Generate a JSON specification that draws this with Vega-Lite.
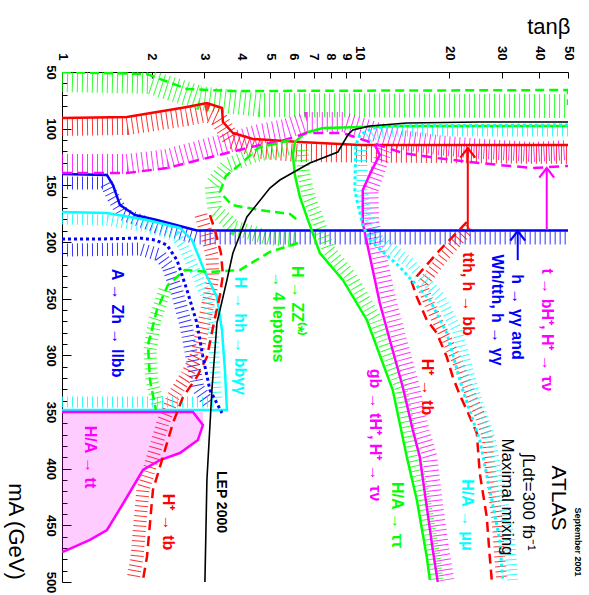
{
"$schema": "https://vega.github.io/schema/vega-lite/v6.json",
"width": 506, "height": 510,
"autosize": {"type": "none"},
"padding": {"left": 62, "top": 72, "right": 21, "bottom": 13},
"background": "white",
"config": {"view": {"stroke": null}, "font": "Liberation Sans"},
"datasets": {
"curves": [
{"s":"lep","o":0,"t":50,"m":94.1},{"s":"lep","o":1,"t":25.27,"m":94.1},{"s":"lep","o":2,"t":14.38,"m":95.0},{"s":"lep","o":3,"t":10.8,"m":97.6},{"s":"lep","o":4,"t":9.474,"m":101.2},{"s":"lep","o":5,"t":9.114,"m":105.6},{"s":"lep","o":6,"t":8.437,"m":120.6},{"s":"lep","o":7,"t":6.796,"m":130.3},{"s":"lep","o":8,"t":5.389,"m":145.3},{"s":"lep","o":9,"t":4.989,"m":152.4},{"s":"lep","o":10,"t":4.176,"m":177.9},{"s":"lep","o":11,"t":3.749,"m":209.7},{"s":"lep","o":12,"t":3.579,"m":233.5},{"s":"lep","o":13,"t":3.313,"m":271.5},{"s":"lep","o":14,"t":3.187,"m":330.6},{"s":"lep","o":15,"t":3.066,"m":410.0},{"s":"lep","o":16,"t":3.019,"m":500},
{"s":"red_top","o":0,"t":1,"m":90.6},{"s":"red_top","o":1,"t":1.653,"m":89.7},{"s":"red_top","o":2,"t":2.628,"m":80.9},{"s":"red_top","o":3,"t":3.066,"m":77.4},{"s":"red_top","o":4,"t":3.444,"m":81.8},{"s":"red_top","o":5,"t":3.47,"m":94.1},{"s":"red_top","o":6,"t":3.749,"m":103.8},{"s":"red_top","o":7,"t":4.375,"m":109.1},{"s":"red_top","o":8,"t":6.292,"m":111.8},{"s":"red_top","o":9,"t":10,"m":114.4},{"s":"red_top","o":10,"t":50,"m":114.4},
{"s":"mag_dash","o":0,"t":1,"m":139.1},{"s":"mag_dash","o":1,"t":1.653,"m":139.1},{"s":"mag_dash","o":2,"t":2.251,"m":134.7},{"s":"mag_dash","o":3,"t":3.579,"m":121.5},{"s":"mag_dash","o":4,"t":4.617,"m":114.4},{"s":"mag_dash","o":5,"t":5.603,"m":110.0},{"s":"mag_dash","o":6,"t":6.639,"m":103.8},{"s":"mag_dash","o":7,"t":8.77,"m":103.8},{"s":"mag_dash","o":8,"t":10.8,"m":111.8},{"s":"mag_dash","o":9,"t":13.94,"m":121.5},{"s":"mag_dash","o":10,"t":18.13,"m":125.9},{"s":"mag_dash","o":11,"t":23.39,"m":129.4},{"s":"mag_dash","o":12,"t":29.5,"m":132.1},{"s":"mag_dash","o":13,"t":38.07,"m":134.7},{"s":"mag_dash","o":14,"t":50,"m":132.9},
{"s":"blue_solid","o":0,"t":1,"m":140.0},{"s":"blue_solid","o":1,"t":1.416,"m":140.9},{"s":"blue_solid","o":2,"t":1.483,"m":149.7},{"s":"blue_solid","o":3,"t":1.565,"m":167.4},{"s":"blue_solid","o":4,"t":1.758,"m":176.2},{"s":"blue_solid","o":5,"t":2.083,"m":180.6},{"s":"blue_solid","o":6,"t":2.838,"m":189.8},{"s":"blue_solid","o":7,"t":50,"m":189.8},
{"s":"cyan_solid","o":0,"t":1,"m":173.5},{"s":"cyan_solid","o":1,"t":1.416,"m":174.4},{"s":"cyan_solid","o":2,"t":1.929,"m":180.6},{"s":"cyan_solid","o":3,"t":2.489,"m":187.6},{"s":"cyan_solid","o":4,"t":2.731,"m":198.2},{"s":"cyan_solid","o":5,"t":3.019,"m":226.5},{"s":"cyan_solid","o":6,"t":3.313,"m":248.5},{"s":"cyan_solid","o":7,"t":3.444,"m":277.6},{"s":"cyan_solid","o":8,"t":3.524,"m":312.9},{"s":"cyan_solid","o":9,"t":3.579,"m":348.2},{"s":"cyan_solid","o":10,"t":1,"m":348.2},
{"s":"blue_dot","o":0,"t":1,"m":197.4},{"s":"blue_dot","o":1,"t":1.341,"m":197.4},{"s":"blue_dot","o":2,"t":1.827,"m":196.5},{"s":"blue_dot","o":3,"t":2.051,"m":198.2},{"s":"blue_dot","o":4,"t":2.251,"m":202.6},{"s":"blue_dot","o":5,"t":2.432,"m":215.9},{"s":"blue_dot","o":6,"t":2.628,"m":242.4},{"s":"blue_dot","o":7,"t":2.838,"m":271.5},{"s":"blue_dot","o":8,"t":2.973,"m":301.5},{"s":"blue_dot","o":9,"t":3.139,"m":330.6},{"s":"blue_dot","o":10,"t":3.444,"m":350.9},
{"s":"red_dash_low","o":0,"t":3.139,"m":176.2},{"s":"red_dash_low","o":1,"t":3.262,"m":189.4},{"s":"red_dash_low","o":2,"t":3.417,"m":209.7},{"s":"red_dash_low","o":3,"t":3.47,"m":229.1},{"s":"red_dash_low","o":4,"t":3.391,"m":246.8},{"s":"red_dash_low","o":5,"t":3.236,"m":271.5},{"s":"red_dash_low","o":6,"t":3.066,"m":301.5},{"s":"red_dash_low","o":7,"t":2.838,"m":319.1},{"s":"red_dash_low","o":8,"t":2.547,"m":336.8},{"s":"red_dash_low","o":9,"t":2.358,"m":359.7},{"s":"red_dash_low","o":10,"t":2.132,"m":398.5},{"s":"red_dash_low","o":11,"t":2.02,"m":418.8},{"s":"red_dash_low","o":12,"t":1.929,"m":477.9},{"s":"red_dash_low","o":13,"t":1.87,"m":498.2},
{"s":"red_dash_high","o":0,"t":22.86,"m":182.4},{"s":"red_dash_high","o":1,"t":18.56,"m":207.1},{"s":"red_dash_high","o":2,"t":14.94,"m":235.3},{"s":"red_dash_high","o":3,"t":15.54,"m":248.5},{"s":"red_dash_high","o":4,"t":16.78,"m":268.8},{"s":"red_dash_high","o":5,"t":18.13,"m":280.3},{"s":"red_dash_high","o":6,"t":19.59,"m":301.5},{"s":"red_dash_high","o":7,"t":20.52,"m":319.1},{"s":"red_dash_high","o":8,"t":21.66,"m":335.0},{"s":"red_dash_high","o":9,"t":22.86,"m":348.2},{"s":"red_dash_high","o":10,"t":24.7,"m":368.5},{"s":"red_dash_high","o":11,"t":25.27,"m":403.8},{"s":"red_dash_high","o":12,"t":26.68,"m":442.6},{"s":"red_dash_high","o":13,"t":27.31,"m":477.9},{"s":"red_dash_high","o":14,"t":27.73,"m":498.2},
{"s":"cyan_dot","o":0,"t":50,"m":96.8},{"s":"cyan_dot","o":1,"t":13.62,"m":97.6},{"s":"cyan_dot","o":2,"t":11.06,"m":99.4},{"s":"cyan_dot","o":3,"t":10,"m":105.6},{"s":"cyan_dot","o":4,"t":9.696,"m":114.4},{"s":"cyan_dot","o":5,"t":9.621,"m":154.1},{"s":"cyan_dot","o":6,"t":9.77,"m":162.9},{"s":"cyan_dot","o":7,"t":10.23,"m":185.0},{"s":"cyan_dot","o":8,"t":10.8,"m":198.2},{"s":"cyan_dot","o":9,"t":13.62,"m":222.1},{"s":"cyan_dot","o":10,"t":17.18,"m":251.2},{"s":"cyan_dot","o":11,"t":19.59,"m":280.3},{"s":"cyan_dot","o":12,"t":22.16,"m":330.6},{"s":"cyan_dot","o":13,"t":25.27,"m":374.7},{"s":"cyan_dot","o":14,"t":27.31,"m":418.8},{"s":"cyan_dot","o":15,"t":29.5,"m":462.9},{"s":"cyan_dot","o":16,"t":30.19,"m":498.2},
{"s":"mag_gb","o":0,"t":11.23,"m":114.4},{"s":"mag_gb","o":1,"t":11.67,"m":123.2},{"s":"mag_gb","o":2,"t":10.97,"m":136.5},{"s":"mag_gb","o":3,"t":10.23,"m":154.1},{"s":"mag_gb","o":4,"t":10.23,"m":183.2},{"s":"mag_gb","o":5,"t":11.67,"m":253.8},{"s":"mag_gb","o":6,"t":12.61,"m":286.5},{"s":"mag_gb","o":7,"t":13.94,"m":327.9},{"s":"mag_gb","o":8,"t":15.06,"m":365.9},{"s":"mag_gb","o":9,"t":15.9,"m":389.7},{"s":"mag_gb","o":10,"t":16.78,"m":433.8},{"s":"mag_gb","o":11,"t":17.58,"m":471.8},{"s":"mag_gb","o":12,"t":18.27,"m":500},
{"s":"green_tt","o":0,"t":50,"m":97.6},{"s":"green_tt","o":1,"t":13.62,"m":97.6},{"s":"green_tt","o":2,"t":7.513,"m":99.4},{"s":"green_tt","o":3,"t":6.54,"m":103.8},{"s":"green_tt","o":4,"t":6.053,"m":111.8},{"s":"green_tt","o":5,"t":5.96,"m":123.2},{"s":"green_tt","o":6,"t":6.053,"m":140.9},{"s":"green_tt","o":7,"t":6.292,"m":160.3},{"s":"green_tt","o":8,"t":6.639,"m":177.9},{"s":"green_tt","o":9,"t":7.341,"m":209.7},{"s":"green_tt","o":10,"t":8.77,"m":233.5},{"s":"green_tt","o":11,"t":10.56,"m":268.8},{"s":"green_tt","o":12,"t":12.9,"m":330.6},{"s":"green_tt","o":13,"t":14.38,"m":389.7},{"s":"green_tt","o":14,"t":15.54,"m":427.6},{"s":"green_tt","o":15,"t":16.78,"m":477.9},{"s":"green_tt","o":16,"t":17.18,"m":498.2},
{"s":"zz_top","o":0,"t":1,"m":50},{"s":"zz_top","o":1,"t":1.929,"m":51.8},{"s":"zz_top","o":2,"t":2.628,"m":65.0},{"s":"zz_top","o":3,"t":3.749,"m":66.8},{"s":"zz_top","o":4,"t":50,"m":65.9},{"s":"zz_top","o":5,"t":50,"m":79.1},
{"s":"zz_c","o":0,"t":5.823,"m":110.0},{"s":"zz_c","o":1,"t":4.547,"m":117.1},{"s":"zz_c","o":2,"t":4.05,"m":129.4},{"s":"zz_c","o":3,"t":3.55,"m":141.8},{"s":"zz_c","o":4,"t":3.391,"m":155.9},{"s":"zz_c","o":5,"t":3.72,"m":167.4},{"s":"zz_c","o":6,"t":4.617,"m":171.8},{"s":"zz_c","o":7,"t":5.823,"m":175.3},{"s":"zz_c","o":8,"t":6.292,"m":182.4},
{"s":"zz_low","o":0,"t":6.194,"m":200.9},{"s":"zz_low","o":1,"t":4.989,"m":208.8},{"s":"zz_low","o":2,"t":3.957,"m":224.7},{"s":"zz_low","o":3,"t":3.139,"m":226.5},{"s":"zz_low","o":4,"t":2.587,"m":224.7},{"s":"zz_low","o":5,"t":2.268,"m":237.9},{"s":"zz_low","o":6,"t":2.083,"m":260.0},{"s":"zz_low","o":7,"t":1.944,"m":290.9},{"s":"zz_low","o":8,"t":1.974,"m":321.8},{"s":"zz_low","o":9,"t":2.067,"m":348.2},
{"s":"mag_tt","o":0,"t":1,"m":350.0},{"s":"mag_tt","o":1,"t":2.752,"m":350.0},{"s":"mag_tt","o":2,"t":2.973,"m":361.5},{"s":"mag_tt","o":3,"t":2.86,"m":374.7},{"s":"mag_tt","o":4,"t":2.489,"m":386.2},{"s":"mag_tt","o":5,"t":2.132,"m":392.4},{"s":"mag_tt","o":6,"t":1.87,"m":401.2},{"s":"mag_tt","o":7,"t":1.653,"m":425.0},{"s":"mag_tt","o":8,"t":1.506,"m":442.6},{"s":"mag_tt","o":9,"t":1.416,"m":454.1},{"s":"mag_tt","o":10,"t":1.241,"m":462.9},{"s":"mag_tt","o":11,"t":1.039,"m":471.8},{"s":"mag_tt","o":12,"t":1,"m":473.5}
],
"hatch": [
{"s":"h_zz_top","o":0,"t":1,"m":57.1},{"s":"h_zz_top","o":1,"t":1.974,"m":58.8},{"s":"h_zz_top","o":2,"t":2.905,"m":72.9},{"s":"h_zz_top","o":3,"t":4.617,"m":79.1},{"s":"h_zz_top","o":4,"t":50,"m":80.0},
{"s":"h_red_top","o":0,"t":1,"m":98.5},{"s":"h_red_top","o":1,"t":1.653,"m":97.6},{"s":"h_red_top","o":2,"t":2.628,"m":89.7},{"s":"h_red_top","o":3,"t":3.066,"m":86.2},{"s":"h_red_top","o":4,"t":3.339,"m":90.6},{"s":"h_red_top","o":5,"t":3.72,"m":110.0},{"s":"h_red_top","o":6,"t":4.617,"m":118.8},{"s":"h_red_top","o":7,"t":6.292,"m":121.5},{"s":"h_red_top","o":8,"t":50,"m":123.2},
{"s":"h_mag_top","o":0,"t":1,"m":131.2},{"s":"h_mag_top","o":1,"t":1.653,"m":131.2},{"s":"h_mag_top","o":2,"t":2.251,"m":126.8},{"s":"h_mag_top","o":3,"t":3.579,"m":112.6},{"s":"h_mag_top","o":4,"t":4.617,"m":104.7},{"s":"h_mag_top","o":5,"t":5.603,"m":100.3},{"s":"h_mag_top","o":6,"t":6.639,"m":94.1},{"s":"h_mag_top","o":7,"t":8.77,"m":94.1},{"s":"h_mag_top","o":8,"t":10.8,"m":101.2},{"s":"h_mag_top","o":9,"t":13.94,"m":110.0},{"s":"h_mag_top","o":10,"t":18.13,"m":114.4},{"s":"h_mag_top","o":11,"t":23.39,"m":117.1},{"s":"h_mag_top","o":12,"t":29.5,"m":118.8},{"s":"h_mag_top","o":13,"t":38.07,"m":120.6},{"s":"h_mag_top","o":14,"t":50,"m":118.8},
{"s":"h_blue","o":0,"t":1,"m":147.9},{"s":"h_blue","o":1,"t":1.405,"m":147.9},{"s":"h_blue","o":2,"t":1.483,"m":160.3},{"s":"h_blue","o":3,"t":1.602,"m":175.3},{"s":"h_blue","o":4,"t":2.083,"m":186.8},{"s":"h_blue","o":5,"t":2.838,"m":196.5},{"s":"h_blue","o":6,"t":50,"m":196.5},
{"s":"h_cyan","o":0,"t":1,"m":179.7},{"s":"h_cyan","o":1,"t":1.416,"m":180.6},{"s":"h_cyan","o":2,"t":1.929,"m":186.8},{"s":"h_cyan","o":3,"t":2.412,"m":194.7},{"s":"h_cyan","o":4,"t":2.567,"m":204.4},{"s":"h_cyan","o":5,"t":2.838,"m":229.1},{"s":"h_cyan","o":6,"t":3.09,"m":251.2},{"s":"h_cyan","o":7,"t":3.212,"m":277.6},{"s":"h_cyan","o":8,"t":3.262,"m":312.9},{"s":"h_cyan","o":9,"t":3.313,"m":339.4},
{"s":"h_cyan2","o":0,"t":1,"m":341.2},{"s":"h_cyan2","o":1,"t":3.262,"m":341.2},
{"s":"h_bluedot","o":0,"t":1,"m":207.1},{"s":"h_bluedot","o":1,"t":1.827,"m":206.2},{"s":"h_bluedot","o":2,"t":2.132,"m":211.5},{"s":"h_bluedot","o":3,"t":2.268,"m":221.2},{"s":"h_bluedot","o":4,"t":2.432,"m":244.1},{"s":"h_bluedot","o":5,"t":2.608,"m":273.2},{"s":"h_bluedot","o":6,"t":2.731,"m":301.5},{"s":"h_bluedot","o":7,"t":2.86,"m":328.8},{"s":"h_bluedot","o":8,"t":3.139,"m":343.8},
{"s":"h_red_low","o":0,"t":2.927,"m":176.2},{"s":"h_red_low","o":1,"t":3.042,"m":191.2},{"s":"h_red_low","o":2,"t":3.187,"m":211.5},{"s":"h_red_low","o":3,"t":3.212,"m":229.1},{"s":"h_red_low","o":4,"t":3.139,"m":246.8},{"s":"h_red_low","o":5,"t":2.996,"m":271.5},{"s":"h_red_low","o":6,"t":2.838,"m":299.7},{"s":"h_red_low","o":7,"t":2.628,"m":317.4},{"s":"h_red_low","o":8,"t":2.358,"m":336.8},{"s":"h_red_low","o":9,"t":2.181,"m":359.7},{"s":"h_red_low","o":10,"t":1.974,"m":398.5},{"s":"h_red_low","o":11,"t":1.87,"m":418.8},{"s":"h_red_low","o":12,"t":1.785,"m":477.9},{"s":"h_red_low","o":13,"t":1.731,"m":498.2},
{"s":"h_red_high","o":0,"t":23.39,"m":187.6},{"s":"h_red_high","o":1,"t":19.32,"m":211.5},{"s":"h_red_high","o":2,"t":16.15,"m":237.9},{"s":"h_red_high","o":3,"t":16.91,"m":251.2},{"s":"h_red_high","o":4,"t":18.13,"m":268.8},{"s":"h_red_high","o":5,"t":19.59,"m":286.5},{"s":"h_red_high","o":6,"t":21.16,"m":304.1},{"s":"h_red_high","o":7,"t":22.51,"m":321.8},{"s":"h_red_high","o":8,"t":23.76,"m":337.6},{"s":"h_red_high","o":9,"t":25.27,"m":352.6},{"s":"h_red_high","o":10,"t":26.68,"m":370.3},{"s":"h_red_high","o":11,"t":27.52,"m":403.8},{"s":"h_red_high","o":12,"t":28.83,"m":442.6},{"s":"h_red_high","o":13,"t":29.5,"m":477.9},{"s":"h_red_high","o":14,"t":29.96,"m":498.2},
{"s":"h_cyandot","o":0,"t":50,"m":102.1},{"s":"h_cyandot","o":1,"t":13.62,"m":102.1},{"s":"h_cyandot","o":2,"t":11.23,"m":104.7},{"s":"h_cyandot","o":3,"t":10.47,"m":110.0},{"s":"h_cyandot","o":4,"t":10.16,"m":118.8},{"s":"h_cyandot","o":5,"t":10.16,"m":154.1},{"s":"h_cyandot","o":6,"t":10.31,"m":162.9},{"s":"h_cyandot","o":7,"t":10.88,"m":182.4},{"s":"h_cyandot","o":8,"t":11.49,"m":196.5},{"s":"h_cyandot","o":9,"t":14.72,"m":218.5},{"s":"h_cyandot","o":10,"t":18.56,"m":248.5},{"s":"h_cyandot","o":11,"t":21.16,"m":277.6},{"s":"h_cyandot","o":12,"t":23.97,"m":328.8},{"s":"h_cyandot","o":13,"t":27.31,"m":372.9},{"s":"h_cyandot","o":14,"t":29.5,"m":417.1},{"s":"h_cyandot","o":15,"t":31.8,"m":461.2},{"s":"h_cyandot","o":16,"t":32.6,"m":498.2},
{"s":"h_gb","o":0,"t":12.12,"m":118.8},{"s":"h_gb","o":1,"t":11.49,"m":136.5},{"s":"h_gb","o":2,"t":10.88,"m":154.1},{"s":"h_gb","o":3,"t":10.97,"m":183.2},{"s":"h_gb","o":4,"t":12.51,"m":251.2},{"s":"h_gb","o":5,"t":13.52,"m":284.7},{"s":"h_gb","o":6,"t":14.94,"m":326.2},{"s":"h_gb","o":7,"t":16.15,"m":365.9},{"s":"h_gb","o":8,"t":17.18,"m":389.7},{"s":"h_gb","o":9,"t":17.99,"m":433.8},{"s":"h_gb","o":10,"t":18.85,"m":471.8},{"s":"h_gb","o":11,"t":19.59,"m":498.2},
{"s":"h_tt","o":0,"t":6.392,"m":118.8},{"s":"h_tt","o":1,"t":6.491,"m":140.9},{"s":"h_tt","o":2,"t":6.744,"m":160.3},{"s":"h_tt","o":3,"t":7.117,"m":176.2},{"s":"h_tt","o":4,"t":7.87,"m":207.1},{"s":"h_tt","o":5,"t":9.329,"m":230.9},{"s":"h_tt","o":6,"t":11.23,"m":267.1},{"s":"h_tt","o":7,"t":13.73,"m":328.8},{"s":"h_tt","o":8,"t":15.18,"m":387.9},{"s":"h_tt","o":9,"t":16.4,"m":425.9},{"s":"h_tt","o":10,"t":17.72,"m":476.2},{"s":"h_tt","o":11,"t":18.13,"m":498.2},
{"s":"h_zz_c","o":0,"t":5.733,"m":117.1},{"s":"h_zz_c","o":1,"t":4.443,"m":123.2},{"s":"h_zz_c","o":2,"t":3.606,"m":132.1},{"s":"h_zz_c","o":3,"t":3.187,"m":149.7},{"s":"h_zz_c","o":4,"t":3.262,"m":171.8},{"s":"h_zz_c","o":5,"t":3.806,"m":187.6},{"s":"h_zz_c","o":6,"t":4.989,"m":196.5},{"s":"h_zz_c","o":7,"t":6.053,"m":198.2},
{"s":"h_zz_left","o":0,"t":2.216,"m":242.4},{"s":"h_zz_left","o":1,"t":2.051,"m":268.8},{"s":"h_zz_left","o":2,"t":1.974,"m":295.3},{"s":"h_zz_left","o":3,"t":2.004,"m":321.8},{"s":"h_zz_left","o":4,"t":2.099,"m":343.8}
],
"arrows": [
{"s":"red","t":23.04,"m":117.1,"m2":189.4},
{"s":"magenta","t":42.42,"m":134.7,"m2":189.4},
{"s":"blue","t":33.9,"m":190.3,"m2":216}
],
"labels": [
{"txt":"A → Zh → llbb","t":1.53,"m":271.5,"s":"blue"},
{"txt":"H → hh → bbγγ","t":3.957,"m":282.9,"s":"cyan"},
{"txt":"H → ZZ⁽*⁾","t":6.147,"m":252.1,"s":"green"},
{"txt":"→ 4 leptons","t":5.307,"m":266.2,"s":"green"},
{"txt":"tth, h → bb","t":23.04,"m":245.9,"s":"red"},
{"txt":"h → γγ and","t":33.63,"m":266.2,"s":"blue"},
{"txt":"Wh/tth, h → γγ","t":28.83,"m":260.0,"s":"blue"},
{"txt":"t → bH⁺, H⁺ → τν","t":42.42,"m":277.6,"s":"magenta"},
{"txt":"gb → tH⁺, H⁺ → τν","t":11.23,"m":370.3,"s":"magenta"},
{"txt":"H⁺ → tb","t":16.78,"m":327.9,"s":"red"},
{"txt":"H/A → ττ","t":13.31,"m":440.9,"s":"green"},
{"txt":"H/A → μμ","t":22.86,"m":440.9,"s":"cyan"},
{"txt":"H/A → tt","t":1.241,"m":389.7,"s":"magenta"},
{"txt":"H⁺ → tb","t":2.268,"m":447.1,"s":"red"}
],
"blacklabels": [
{"txt":"Maximal mixing","t":31.13,"m":425.0,"s":"black","k":"a"},
{"txt":"∫Ldt=300 fb⁻¹","t":36.63,"m":429.4,"s":"black","k":"a"},
{"txt":"ATLAS","t":46.17,"m":425.9,"s":"black","k":"b"},
{"txt":"September 2001","t":53.9,"m":464.7,"s":"black","k":"c"},
{"txt":"LEP 2000","t":3.417,"m":429.4,"s":"black","k":"d"}
]
},
"encoding": {
"x": {"field":"t","type":"quantitative","scale":{"type":"log","domain":[1,50]},
 "axis":{"orient":"top","values":[1,2,3,4,5,6,7,8,9,10,20,30,40,50],"labelExpr":"'' + datum.value","title":"tanβ","titleFontSize":22,"titleFontWeight":"normal","titleAngle":0,"titleAlign":"right","titleBaseline":"alphabetic","titleX":508,"titleY":-39,"labelAngle":90,"labelAlign":"right","labelBaseline":"middle","labelFontSize":13,"labelFontWeight":"bold","labelPadding":18,"labelFlush":false,"labelOverlap":false,"tickSize":-6,"tickColor":"black","domainColor":"black","labelColor":"black","titleColor":"black","grid":false}},
"y": {"field":"m","type":"quantitative","scale":{"domain":[50,500],"reverse":true},
 "axis":{"orient":"left","values":[50,60,70,80,90,100,110,120,130,140,150,160,170,180,190,200,210,220,230,240,250,260,270,280,290,300,310,320,330,340,350,360,370,380,390,400,410,420,430,440,450,460,470,480,490,500],"labelExpr":"datum.value % 50 === 0 ? '' + datum.value : ''","title":"mA (GeV)","titleFontSize":22,"titleFontWeight":"normal","titleAngle":90,"titleAlign":"center","titleBaseline":"middle","titleX":-47,"titleY":459,"labelAngle":90,"labelAlign":"center","labelBaseline":"top","labelFontSize":13,"labelFontWeight":"bold","labelPadding":15,"labelFlush":false,"labelOverlap":false,"tickSize":{"condition":{"test":"datum.value % 50 === 0","value":-9},"value":-5},"tickColor":"black","domainColor":"black","labelColor":"black","titleColor":"black","grid":false}},
"color": {"field":"s","type":"nominal","legend":null,"scale":{
 "domain":["lep","red_top","mag_dash","blue_solid","cyan_solid","blue_dot","red_dash_low","red_dash_high","cyan_dot","mag_gb","green_tt","zz_top","zz_c","zz_low","mag_tt","h_zz_top","h_red_top","h_mag_top","h_blue","h_cyan","h_cyan2","h_bluedot","h_red_low","h_red_high","h_cyandot","h_gb","h_tt","h_zz_c","h_zz_left","blue","cyan","green","red","magenta","black"],
 "range":["#000000","#ff0000","#ff00ff","#0000ff","#00ffff","#0000ff","#ff0000","#ff0000","#00ffff","#ff00ff","#00ff00","#00ff00","#00ff00","#00ff00","#ff00ff","#00ff00","#ff0000","#ff00ff","#0000ff","#00ffff","#00ffff","#0000ff","#ff0000","#ff0000","#00ffff","#ff00ff","#00ff00","#00ff00","#00ff00","#0000ff","#00ffff","#00ff00","#ff0000","#ff00ff","#000000"]}}
},
"layer": [
{"data":{"name":"hatch"},"transform":[{"filter":"datum.s == 'h_zz_top'"}],"mark":{"type":"line","strokeWidth":24,"strokeDash":[1,4],"opacity":0.8,"clip":true},"encoding":{"order":{"field":"o","type":"quantitative"}}},
{"data":{"name":"hatch"},"transform":[{"filter":"datum.s == 'h_mag_top'"}],"mark":{"type":"line","strokeWidth":20,"strokeDash":[1,4],"opacity":0.8,"clip":true},"encoding":{"order":{"field":"o","type":"quantitative"}}},
{"data":{"name":"hatch"},"transform":[{"filter":"datum.s == 'h_red_top'"}],"mark":{"type":"line","strokeWidth":18,"strokeDash":[1,4],"opacity":0.8,"clip":true},"encoding":{"order":{"field":"o","type":"quantitative"}}},
{"data":{"name":"hatch"},"transform":[{"filter":"datum.s == 'h_gb' || datum.s == 'h_zz_c'"}],"mark":{"type":"line","strokeWidth":15,"strokeDash":[1,4],"opacity":0.8,"clip":true},"encoding":{"order":{"field":"o","type":"quantitative"}}},
{"data":{"name":"hatch"},"transform":[{"filter":"indexof(['h_blue','h_bluedot','h_red_low','h_tt','h_zz_left'], datum.s) >= 0"}],"mark":{"type":"line","strokeWidth":13,"strokeDash":[1,4],"opacity":0.8,"clip":true},"encoding":{"order":{"field":"o","type":"quantitative"}}},
{"data":{"name":"hatch"},"transform":[{"filter":"indexof(['h_cyan','h_cyan2','h_red_high','h_cyandot'], datum.s) >= 0"}],"mark":{"type":"line","strokeWidth":11,"strokeDash":[1,4],"opacity":0.8,"clip":true},"encoding":{"order":{"field":"o","type":"quantitative"}}},
{"data":{"name":"curves"},"transform":[{"filter":"datum.s == 'mag_tt' && datum.o >= 2"}],"mark":{"type":"area","opacity":0.2,"clip":true},"encoding":{"y2":{"datum":350}}},
{"data":{"name":"curves"},"transform":[{"filter":"indexof(['red_top','blue_solid','cyan_solid','mag_gb','green_tt','mag_tt'], datum.s) >= 0"}],"mark":{"type":"line","strokeWidth":2.5,"clip":true},"encoding":{"order":{"field":"o","type":"quantitative"}}},
{"data":{"name":"curves"},"transform":[{"filter":"indexof(['mag_dash','red_dash_low','red_dash_high'], datum.s) >= 0"}],"mark":{"type":"line","strokeWidth":2.5,"strokeDash":[10,6],"clip":true},"encoding":{"order":{"field":"o","type":"quantitative"}}},
{"data":{"name":"curves"},"transform":[{"filter":"indexof(['zz_top','zz_c','zz_low'], datum.s) >= 0"}],"mark":{"type":"line","strokeWidth":2.5,"strokeDash":[9,5],"clip":true},"encoding":{"order":{"field":"o","type":"quantitative"}}},
{"data":{"name":"curves"},"transform":[{"filter":"indexof(['blue_dot','cyan_dot'], datum.s) >= 0"}],"mark":{"type":"line","strokeWidth":3,"strokeDash":[3,3],"clip":true},"encoding":{"order":{"field":"o","type":"quantitative"}}},
{"data":{"name":"curves"},"transform":[{"filter":"datum.s == 'lep'"}],"mark":{"type":"line","strokeWidth":1.6,"clip":true},"encoding":{"order":{"field":"o","type":"quantitative"}}},
{"data":{"name":"arrows"},"mark":{"type":"rule","strokeWidth":2},"encoding":{"y2":{"field":"m2"}}},
{"data":{"name":"arrows"},"mark":{"type":"point","shape":"M-1,1.3L0,0L1,1.3","filled":false,"size":220,"strokeWidth":2.2,"opacity":1},"encoding":{}},
{"data":{"name":"labels"},"mark":{"type":"text","angle":90,"align":"center","baseline":"middle","fontSize":16,"fontWeight":"bold","font":"Liberation Sans"},"encoding":{"text":{"field":"txt"}}},
{"data":{"name":"blacklabels"},"transform":[{"filter":"datum.k == 'a'"}],"mark":{"type":"text","angle":90,"align":"center","baseline":"middle","fontSize":17,"font":"Liberation Sans"},"encoding":{"text":{"field":"txt"}}},
{"data":{"name":"blacklabels"},"transform":[{"filter":"datum.k == 'b'"}],"mark":{"type":"text","angle":90,"align":"center","baseline":"middle","fontSize":21,"font":"Liberation Sans"},"encoding":{"text":{"field":"txt"}}},
{"data":{"name":"blacklabels"},"transform":[{"filter":"datum.k == 'c'"}],"mark":{"type":"text","angle":90,"align":"center","baseline":"middle","fontSize":9,"fontWeight":"bold","font":"Liberation Sans"},"encoding":{"text":{"field":"txt"}}},
{"data":{"name":"blacklabels"},"transform":[{"filter":"datum.k == 'd'"}],"mark":{"type":"text","angle":90,"align":"center","baseline":"middle","fontSize":14,"fontWeight":"bold","font":"Liberation Sans"},"encoding":{"text":{"field":"txt"}}}
]
}
